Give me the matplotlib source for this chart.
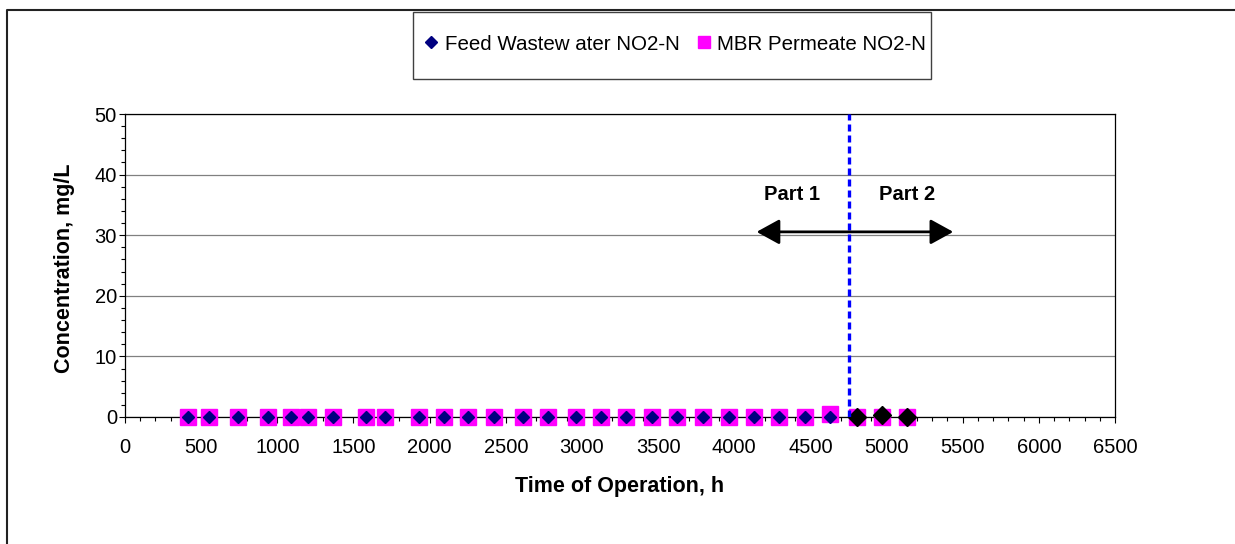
"""NO2-N concentration in feed wastewater and MBR permeate over operating time."""

import matplotlib
matplotlib.use("Agg")
import matplotlib.pyplot as plt
from matplotlib.lines import Line2D
from matplotlib.patches import Rectangle
from matplotlib.ticker import MultipleLocator

plt.rcParams["font.family"] = ["Liberation Sans", "DejaVu Sans"]

# Part 1 sampling times (h) and values (mg/L)
feed_hours = [416, 554, 744, 937, 1088, 1203, 1367, 1580, 1707, 1930, 2094, 2254, 2425,
              2615, 2779, 2959, 3123, 3289, 3458, 3622, 3797, 3966, 4132, 4296, 4465, 4629]
feed_no2 = [0.0] * 26

# Part 2 feed points (drawn black in the original)
feed2_hours = [4808, 4972, 5136]
feed2_no2 = [0.0, 0.3, 0.0]

permeate_hours = feed_hours + feed2_hours
permeate_no2 = [0.0] * 25 + [0.5] + [0.0, 0.0, 0.0]

split_hour = 4755
W, H = 1235, 544

fig = plt.figure(figsize=(W / 100, H / 100), dpi=100)
ax = fig.add_axes([125 / W, 1 - 417 / H, 990 / W, 303 / H])

ax.plot(permeate_hours, permeate_no2, ls="none", marker="s", ms=11, color="#ff00ff",
        mec="#ff00ff", clip_on=False, zorder=3)
ax.plot(feed_hours, feed_no2, ls="none", marker="D", ms=6.2, color="#000080",
        mec="#000080", clip_on=False, zorder=4)
ax.plot(feed2_hours, feed2_no2, ls="none", marker="D", ms=8.7, color="black",
        clip_on=False, zorder=4)

ax.axvline(split_hour, color="#0000ff", lw=2.4, dashes=(2.1, 1.2), zorder=5)

ax.annotate("", xy=(5438, 30.55), xytext=(4147, 30.55),
            arrowprops=dict(arrowstyle="<|-|>,head_length=1.0,head_width=0.55",
                            mutation_scale=14, lw=2, color="black",
                            shrinkA=0, shrinkB=0), zorder=6)
ax.text(4377, 36.7, "Part 1", ha="center", va="center", fontsize=14.5, fontweight="bold")
ax.text(5132, 36.7, "Part 2", ha="center", va="center", fontsize=14.5, fontweight="bold")

ax.set_xlim(0, 6500)
ax.set_ylim(0, 50)
ax.xaxis.set_major_locator(MultipleLocator(500))
ax.xaxis.set_minor_locator(MultipleLocator(100))
ax.yaxis.set_major_locator(MultipleLocator(10))
ax.yaxis.set_minor_locator(MultipleLocator(2))
ax.tick_params(which="major", direction="out", length=4.3, width=0.8, labelsize=14.5, color="black")
ax.tick_params(which="minor", direction="out", length=2.8, width=0.8, color="black")
ax.tick_params(axis="x", which="major", pad=11)
ax.tick_params(axis="y", which="major", pad=1.5)

ax.grid(axis="y", which="major", color="#808080", lw=0.9)
ax.set_axisbelow(True)
for spine in ax.spines.values():
    spine.set_color("black")
    spine.set_linewidth(0.9)

ax.set_xlabel("Time of Operation, h", fontsize=15.5, fontweight="bold", va="center")
ax.xaxis.set_label_coords(0.5, -0.231)
ax.set_ylabel("Concentration, mg/L", fontsize=15.5, fontweight="bold", va="center")
ax.yaxis.set_label_coords(-0.0616, 0.49)

handles = [
    Line2D([], [], ls="none", marker="D", ms=6.2, color="#000080", label="Feed Wastew ater NO2-N"),
    Line2D([], [], ls="none", marker="s", ms=8.6, color="#ff00ff", label="MBR Permeate NO2-N"),
]
fig.legend(handles=handles, loc="center left", bbox_to_anchor=(424 / W, 1 - 44 / H),
           ncol=2, frameon=False, borderpad=0, borderaxespad=0, handlelength=0.7,
           handletextpad=0.3, columnspacing=0.85, fontsize=14.8)
fig.add_artist(Rectangle((413 / W, 1 - 79 / H), 518 / W, 67 / H, transform=fig.transFigure,
                         fill=False, edgecolor="#404040", lw=1))

# chart-area frame (left and top edges visible in the original)
fig.add_artist(Line2D([7 / W, 7 / W, 1.0], [0.0, 1 - 10 / H, 1 - 10 / H],
                      transform=fig.transFigure, color="#222222", lw=1.5))

fig.savefig("out.png", dpi=100)
